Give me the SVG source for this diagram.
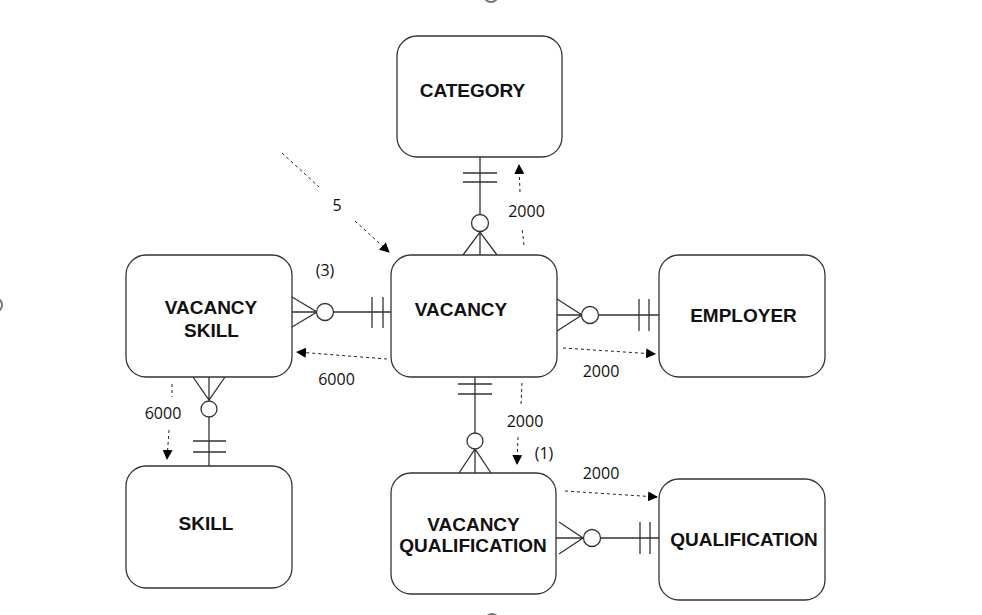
<svg xmlns="http://www.w3.org/2000/svg" width="982" height="615" viewBox="0 0 982 615">
<style>
.box{fill:#fff;stroke:#333;stroke-width:1.3}
.ln{fill:none;stroke:#333;stroke-width:1.3}
.ci{fill:#fff;stroke:#333;stroke-width:1.3}
.dash{fill:none;stroke:#222;stroke-width:1;stroke-dasharray:3 3}
.t{font-family:"Liberation Sans",Arial,sans-serif;font-weight:bold;font-size:19px;fill:#111;text-anchor:middle}
.n{font-family:"Open Sans","Liberation Sans",sans-serif;font-size:16px;fill:#111;text-anchor:middle}
.h{fill:#fff;stroke:#777;stroke-width:2}
</style>
<defs>
<marker id="ar" viewBox="0 0 10 10" refX="9" refY="5" markerWidth="10" markerHeight="10" markerUnits="userSpaceOnUse" orient="auto">
<path d="M0,0 L10,5 L0,10 z" fill="#000"/>
</marker>
</defs>
<rect width="982" height="615" fill="#fff"/>
<circle class="h" cx="491" cy="-5" r="7"/>
<circle class="h" cx="-5" cy="305" r="7"/>
<circle class="h" cx="492" cy="621" r="7"/>

<g id="connectors">
<!-- CATEGORY - VACANCY -->
<path class="ln" d="M480,157 V255 M463,173 H497 M463,182 H497 M463,255 L480,232 L497,255"/>
<circle class="ci" cx="480" cy="223" r="8.5"/>
<!-- VACANCY SKILL - VACANCY -->
<path class="ln" d="M292,312 H391 M292,297 L317,312 L292,327 M372,297 V328 M383,297 V328"/>
<circle class="ci" cx="325" cy="312" r="8.5"/>
<!-- VACANCY - EMPLOYER -->
<path class="ln" d="M557,315 H659 M557,299 L582,315 L557,331 M639,299 V331 M649,299 V331"/>
<circle class="ci" cx="590" cy="315" r="8.5"/>
<!-- VACANCY SKILL - SKILL -->
<path class="ln" d="M209,377 V466 M193,377 L209,400 L225,377 M193,441 H226 M193,452 H226"/>
<circle class="ci" cx="209" cy="409" r="8"/>
<!-- VACANCY - VACANCY QUALIFICATION -->
<path class="ln" d="M475,377 V473 M458,384 H492 M458,394 H492 M459,473 L475,449 L491,473"/>
<circle class="ci" cx="475" cy="441" r="8"/>
<!-- VQ - QUALIFICATION -->
<path class="ln" d="M556,538 H659 M559,522 L583,538 L559,554 M640,522 V554 M650,522 V554"/>
<circle class="ci" cx="592" cy="538" r="8.5"/>

<!-- dashed annotations -->
<path class="dash" d="M524,245 L522,228"/>
<path class="dash" d="M520,192 L519,165" marker-end="url(#ar)"/>
<path class="dash" d="M282,153 L319,187"/>
<path class="dash" d="M355,221 L389,252" marker-end="url(#ar)"/>
<path class="dash" d="M387,359 L297,352" marker-end="url(#ar)"/>
<path class="dash" d="M563,348 L655,354" marker-end="url(#ar)"/>
<path class="dash" d="M172,384 L172,397"/>
<path class="dash" d="M169,430 L167,459" marker-end="url(#ar)"/>
<path class="dash" d="M522,383 L521,405"/>
<path class="dash" d="M518,437 L517,464" marker-end="url(#ar)"/>
<path class="dash" d="M565,491 L657,497" marker-end="url(#ar)"/>

<text class="n" x="526.5" y="217">2000</text>
<text class="n" x="337" y="211">5</text>
<text class="n" x="325" y="276">(3)</text>
<text class="n" x="336.5" y="385">6000</text>
<text class="n" x="504" y="357">400</text>
<text class="n" x="601" y="377">2000</text>
<text class="n" x="163" y="419">6000</text>
<text class="n" x="525" y="427">2000</text>
<text class="n" x="544" y="459">(1)</text>
<text class="n" x="601" y="479">2000</text>
</g>

<g id="category">
<rect class="box" x="397" y="36" width="165" height="121" rx="20"/>
<text class="t" x="472.5" y="97">CATEGORY</text>
</g>
<g id="vacancy">
<rect class="box" x="391" y="255" width="166" height="122" rx="20"/>
<text class="t" x="461" y="316">VACANCY</text>
</g>
<g id="vacancy-skill">
<rect class="box" x="126" y="255" width="166" height="122" rx="20"/>
<text class="t" x="211" y="314">VACANCY</text>
<text class="t" x="211.5" y="337">SKILL</text>
</g>
<g id="employer">
<rect class="box" x="659" y="255" width="166" height="122" rx="20"/>
<text class="t" x="743.5" y="322">EMPLOYER</text>
</g>
<g id="skill">
<rect class="box" x="126" y="466" width="166" height="122" rx="20"/>
<text class="t" x="206" y="530">SKILL</text>
</g>
<g id="vacancy-qualification">
<rect class="box" x="391" y="473" width="165" height="121" rx="20"/>
<text class="t" x="473.5" y="531">VACANCY</text>
<text class="t" x="473" y="552">QUALIFICATION</text>
</g>
<g id="qualification">
<rect class="box" x="659" y="479" width="166" height="121" rx="20"/>
<text class="t" x="744" y="546">QUALIFICATION</text>
</g>
</svg>
